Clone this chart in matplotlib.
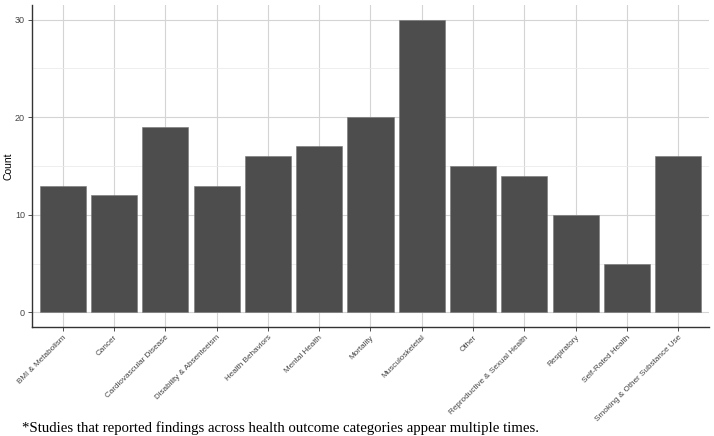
import matplotlib
matplotlib.use("Agg")
import matplotlib.pyplot as plt
import numpy as np

categories = ["BMI & Metabolism", "Cancer", "Cardiovascular Disease", "Disability & Absenteeism",
              "Health Behaviors", "Mental Health", "Mortality", "Musculoskeletal", "Other",
              "Reproductive & Sexual Health", "Respiratory", "Self-Rated Health",
              "Smoking & Other Substance Use"]
counts = [13, 12, 19, 13, 16, 17, 20, 30, 15, 14, 10, 5, 16]
y_ticks = [0, 10, 20, 30]
footnote = "*Studies that reported findings across health outcome categories appear multiple times."

fig = plt.figure(figsize=(7.14, 4.36), dpi=100)
ax = fig.add_axes([32/714, 1-327/436, (709-32)/714, (327-5)/436])

x = np.arange(len(categories))
ax.set_axisbelow(True)
ax.bar(x, counts, width=0.9, color="#4d4d4d", edgecolor="#777777", linewidth=0.4, zorder=3)

ax.set_xlim(-0.6, len(categories) - 0.4)
ax.set_ylim(-1.5, 31.5)
ax.set_yticks(y_ticks)
ax.set_yticks([5, 15, 25], minor=True)
ax.set_xticks(x)
ax.set_xticklabels(categories, rotation=45, ha="right", va="top", rotation_mode="anchor",
                   fontsize=5.9, family="Liberation Sans", color="#444444")
ax.set_yticklabels([str(v) for v in y_ticks], fontsize=6.5, family="Liberation Sans", color="#444444")

ax.grid(which="major", color="#d4d4d4", linewidth=0.8)
ax.grid(which="minor", axis="y", color="#ebebeb", linewidth=0.6)
ax.tick_params(axis="both", which="major", length=3, width=0.6, color="#333333", pad=2)
ax.tick_params(axis="y", which="minor", length=0)

for s in ["top", "right"]:
    ax.spines[s].set_visible(False)
for s in ["left", "bottom"]:
    ax.spines[s].set_color("#333333")
    ax.spines[s].set_linewidth(1.0)

ax.set_ylabel("Count", fontsize=7.5, family="Liberation Sans")
ax.yaxis.set_label_coords(-0.028, 0.5)

fig.text(22/714, 1-428/436, footnote, fontsize=10.6, family="Liberation Serif", va="center", ha="left")

fig.savefig("out.png", dpi=100)
